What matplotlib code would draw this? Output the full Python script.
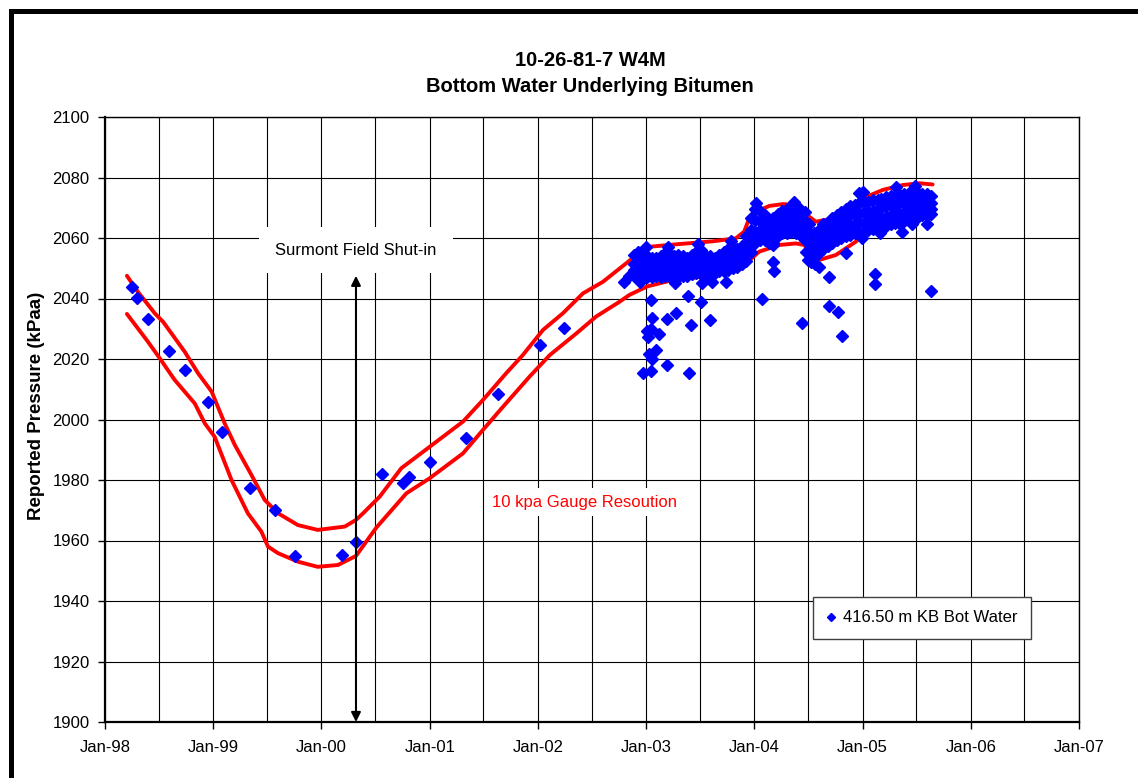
import numpy as np
import matplotlib
matplotlib.use("Agg")
import matplotlib.pyplot as plt
import matplotlib.dates as mdates
from matplotlib.patches import Rectangle

plt.rcParams["font.family"] = ["Liberation Sans", "DejaVu Sans"]

# sparse readings before the logger went in (1998 - 2002)
early_dates = ["1998-04-01", "1998-04-18", "1998-05-26", "1998-08-04", "1998-09-28",
               "1998-12-14", "1999-01-31", "1999-05-06", "1999-07-28", "1999-10-04",
               "2000-03-12", "2000-04-27", "2000-07-23", "2000-10-03", "2000-10-23",
               "2001-01-01", "2001-05-02", "2001-08-20", "2002-01-07", "2002-03-31",
               "2002-10-20", "2002-11-03"]
early_kpa = [2043.9, 2040.3, 2033.1, 2022.7, 2016.5,
             2005.9, 1995.9, 1977.3, 1970.2, 1954.9,
             1955.3, 1959.6, 1981.9, 1978.9, 1980.9,
             1985.9, 1993.8, 2008.3, 2024.6, 2030.3,
             2045.5, 2047.4]

dense_dates = ["2002-11-20", "2002-12-05", "2002-12-20", "2003-01-05", "2003-01-20", "2003-02-05", "2003-02-20", "2003-03-05", "2003-03-20", "2003-04-05",
               "2003-04-20", "2003-05-05", "2003-05-20", "2003-06-05", "2003-06-20", "2003-07-05", "2003-07-20", "2003-08-05", "2003-08-20", "2003-09-05",
               "2003-09-20", "2003-10-05", "2003-10-20", "2003-11-05", "2003-11-20", "2003-12-05", "2003-12-20", "2004-01-05", "2004-01-20", "2004-02-05",
               "2004-02-20", "2004-03-05", "2004-03-20", "2004-04-05", "2004-04-20", "2004-05-05", "2004-05-20", "2004-06-05", "2004-06-20", "2004-07-05",
               "2004-07-20", "2004-08-05", "2004-08-20", "2004-09-05", "2004-09-20", "2004-10-05", "2004-10-20", "2004-11-05", "2004-11-20", "2004-12-05",
               "2004-12-20", "2005-01-05", "2005-01-20", "2005-02-05", "2005-02-20", "2005-03-05", "2005-03-20", "2005-04-05", "2005-04-20", "2005-05-05",
               "2005-05-20", "2005-06-05", "2005-06-20", "2005-07-05", "2005-07-20", "2005-08-05", "2005-08-20"]
dense_row1 = [2054.5, 2055.5, 2054.5, 2054, 2053.5, 2053.5, 2054, 2055, 2055, 2054,
              2054.5, 2054, 2053.5, 2054.5, 2055.5, 2056, 2054.5, 2054, 2053.5, 2054.5,
              2055.5, 2056.5, 2057, 2056.5, 2057.5, 2060.5, 2066.5, 2069.5, 2069, 2067.5,
              2066, 2066.5, 2068, 2069, 2069.5, 2069.5, 2070, 2069.5, 2068.5, 2064.5,
              2061.5, 2062.5, 2064.5, 2065, 2066.5, 2067.5, 2068.5, 2069.5, 2070.5, 2071,
              2071.5, 2072, 2072, 2072.5, 2072.5, 2073, 2073.5, 2074, 2074, 2074.5,
              2074.5, 2075, 2075, 2075, 2074.5, 2074.5, 2074]
dense_row2 = [2051.5, 2052, 2052, 2051.5, 2051, 2051.5, 2051.5, 2052, 2052.5, 2051.5,
              2052, 2051.5, 2051.5, 2052, 2053, 2053, 2052, 2051.5, 2051.5, 2052.5,
              2053, 2054, 2054.5, 2054.5, 2055.5, 2058, 2062.5, 2066, 2065.5, 2064.5,
              2063.5, 2063.5, 2065.5, 2066.5, 2067, 2067, 2067, 2066.5, 2065.5, 2061.5,
              2058.5, 2060, 2062, 2062.5, 2064, 2065, 2065.5, 2066.5, 2067.5, 2068,
              2068, 2068.5, 2068.5, 2069, 2069.5, 2070, 2070.5, 2071, 2071, 2071.5,
              2071.5, 2072, 2072, 2072.5, 2072, 2072, 2071.5]
dense_row3 = [2049.5, 2049.5, 2050, 2049, 2049, 2049.5, 2049, 2049.5, 2050, 2049.5,
              2049.5, 2049.5, 2049.5, 2050, 2050.5, 2050.5, 2049.5, 2049, 2050, 2050.5,
              2051, 2051.5, 2052, 2052.5, 2053.5, 2055, 2059, 2062, 2062.5, 2062,
              2061, 2061, 2063, 2064, 2064, 2064.5, 2064.5, 2063.5, 2062.5, 2058.5,
              2056, 2057.5, 2059, 2060, 2061, 2062, 2063, 2063.5, 2064, 2064.5,
              2065, 2065, 2065.5, 2066, 2066.5, 2066.5, 2067, 2067.5, 2068, 2068,
              2068.5, 2069, 2069, 2069.5, 2069.5, 2069.5, 2069.5]
dense_row4 = [2047.5, 2047.5, 2048, 2047, 2047, 2047.5, 2047, 2047.5, 2047.5, 2047.5,
              2047, 2047.5, 2047.5, 2048, 2048.5, 2048, 2047.5, 2047, 2048.5, 2049,
              2049, 2049.5, 2050, 2050.5, 2051.5, 2052.5, 2055.5, 2058.5, 2059.5, 2059.5,
              2058.5, 2058.5, 2060.5, 2061.5, 2061.5, 2062, 2061.5, 2061, 2059.5, 2055.5,
              2053.5, 2055, 2056.5, 2057.5, 2058.5, 2059.5, 2060, 2060.5, 2061, 2061.5,
              2061.5, 2062, 2062.5, 2063, 2063.5, 2063.5, 2064, 2064.5, 2065, 2065,
              2065.5, 2066, 2066.5, 2067, 2067.5, 2067.5, 2068]

# ragged readings poking out of the band edges
edge_dates = ["2003-01-01", "2003-03-15", "2003-06-25", "2003-10-15", "2003-04-10",
              "2003-08-10", "2004-01-08", "2004-05-15", "2004-07-10", "2004-07-25",
              "2005-04-25", "2005-06-25", "2004-12-28", "2005-03-01"]
edge_kpa = [2057.0, 2057.0, 2058.0, 2059.0, 2045.0,
            2045.5, 2071.5, 2071.8, 2052.0, 2051.5,
            2076.8, 2077.3, 2060.0, 2061.5]

# stray readings away from the band
stray_dates = ["2002-12-10", "2003-01-18", "2003-05-23", "2003-07-06", "2004-01-26",
               "2003-04-13", "2003-03-11", "2003-01-21", "2003-08-05", "2003-06-03",
               "2004-06-10", "2003-01-05", "2003-01-19", "2003-02-12", "2003-01-09",
               "2003-02-02", "2003-01-12", "2003-01-22", "2003-03-11", "2002-12-20",
               "2003-01-19", "2003-05-27", "2003-07-08", "2003-09-27", "2004-03-06",
               "2004-03-08", "2004-09-10", "2004-10-10", "2004-10-22", "2004-09-08",
               "2004-08-07", "2004-06-29", "2004-11-05", "2005-02-13", "2005-02-13",
               "2005-08-21", "2005-05-12", "2005-06-17", "2005-08-07", "2004-12-20",
               "2005-01-01", "2004-06-24", "2004-03-04"]
stray_kpa = [2045.5, 2039.5, 2040.8, 2038.9, 2040.0,
             2035.3, 2033.2, 2033.4, 2032.9, 2031.3,
             2031.8, 2029.4, 2029.9, 2028.3, 2027.4,
             2023.0, 2021.7, 2020.0, 2018.0, 2015.4,
             2016.1, 2015.4, 2045.2, 2045.5, 2052.0,
             2049.1, 2037.6, 2035.6, 2027.7, 2047.2,
             2050.5, 2052.7, 2055.1, 2048.0, 2044.7,
             2042.5, 2062.1, 2064.5, 2064.6, 2075.0,
             2075.3, 2055.5, 2057.7]

# 10 kPa gauge resolution envelope
upper_dates = ["1998-03-16", "1998-04-22", "1998-06-18", "1998-07-16", "1998-09-27",
               "1998-11-11", "1998-12-27", "1999-02-09", "1999-03-15", "1999-05-10",
               "1999-06-24", "1999-08-08", "1999-10-14", "1999-12-20", "2000-03-20",
               "2000-04-27", "2000-05-21", "2000-07-16", "2000-09-27", "2001-01-01",
               "2001-04-23", "2001-06-29", "2001-09-16", "2001-11-11", "2002-01-18",
               "2002-03-26", "2002-06-02", "2002-08-08", "2002-11-06", "2002-12-20",
               "2003-01-12", "2003-04-23", "2003-08-13", "2003-10-31", "2003-11-28",
               "2003-12-15", "2004-01-07", "2004-02-21", "2004-04-06", "2004-06-01",
               "2004-07-05", "2004-07-27", "2004-09-10", "2004-11-05", "2005-01-01",
               "2005-03-10", "2005-05-16", "2005-07-11", "2005-08-25"]
upper_kpa = [2047.5, 2042.2, 2035.1, 2032.3, 2022.4,
             2015.3, 2009.2, 1998.7, 1991.6, 1981.7,
             1973.4, 1969.0, 1965.1, 1963.5, 1964.6,
             1966.8, 1969.0, 1974.5, 1983.9, 1991.0,
             1999.3, 2006.4, 2015.3, 2021.3, 2029.6,
             2035.1, 2041.7, 2045.5, 2052.5, 2056.2,
             2057.1, 2058.0, 2058.9, 2059.9, 2062.1,
             2066.5, 2068.7, 2070.6, 2071.2, 2070.9,
             2067.0, 2065.4, 2066.2, 2069.5, 2073.1,
             2075.9, 2077.5, 2078.1, 2077.7]
lower_dates = ["1998-03-16", "1998-05-26", "1998-07-05", "1998-08-24", "1998-10-31",
               "1998-12-04", "1999-01-06", "1999-03-04", "1999-04-28", "1999-06-13",
               "1999-07-05", "1999-08-08", "1999-10-14", "1999-12-20", "2000-02-26",
               "2000-04-27", "2000-07-05", "2000-10-14", "2001-01-01", "2001-04-23",
               "2001-06-29", "2001-09-05", "2001-12-04", "2002-02-10", "2002-05-10",
               "2002-07-16", "2002-10-03", "2002-11-06", "2003-01-05", "2003-04-01",
               "2003-07-10", "2003-10-08", "2003-12-03", "2004-01-18", "2004-03-26",
               "2004-05-21", "2004-06-18", "2004-07-16", "2004-08-13", "2004-10-03",
               "2004-12-09", "2005-01-01", "2005-03-10", "2005-05-16", "2005-07-22",
               "2005-08-25"]
lower_kpa = [2034.9, 2025.7, 2020.2, 2013.1, 2005.3,
             1998.7, 1994.3, 1980.0, 1969.0, 1962.9,
             1958.0, 1955.8, 1953.0, 1951.3, 1951.9,
             1954.9, 1964.3, 1975.6, 1980.6, 1988.8,
             1996.5, 2004.2, 2014.2, 2021.3, 2028.4,
             2034.0, 2038.9, 2041.2, 2044.0, 2046.1,
             2047.2, 2048.9, 2051.6, 2055.5, 2057.7,
             2058.2, 2057.7, 2053.8, 2052.9, 2054.4,
             2058.8, 2061.0, 2063.2, 2064.8, 2067.0,
             2066.8]

shut_in_date = "2000-04-27"
series_name = "416.50 m KB Bot Water"


def d(lst):
    return np.array(lst, dtype="datetime64[D]")


all_dates = np.concatenate([d(early_dates)] + [d(dense_dates)] * 4 + [d(edge_dates), d(stray_dates)])
all_kpa = np.concatenate([early_kpa, dense_row1, dense_row2, dense_row3, dense_row4,
                          edge_kpa, stray_kpa])

W, H = 1138, 778
fig = plt.figure(figsize=(W / 100, H / 100), dpi=100)
ax = fig.add_axes([105 / W, 56 / H, 974 / W, 605 / H])

# envelope first, readings on top
ax.plot(d(upper_dates), upper_kpa, color="#FF0000", lw=2.8, zorder=3,
        solid_joinstyle="round", solid_capstyle="round")
ax.plot(d(lower_dates), lower_kpa, color="#FF0000", lw=2.8, zorder=3,
        solid_joinstyle="round", solid_capstyle="round")
pts, = ax.plot(all_dates, all_kpa, linestyle="none", marker="D", ms=6.6,
               color="#0000FF", mec="#0000FF", zorder=4)

ax.set_xlim(np.datetime64("1998-01-01"), np.datetime64("2007-01-01"))
ax.set_ylim(1900, 2100)
ax.set_yticks(np.arange(1900, 2101, 20))
ax.xaxis.set_major_locator(mdates.YearLocator())
ax.xaxis.set_minor_locator(mdates.MonthLocator(bymonth=7))
ax.xaxis.set_major_formatter(mdates.DateFormatter("%b-%y"))

ax.grid(True, which="major", color="black", lw=0.8, zorder=1)
ax.grid(True, which="minor", axis="x", color="black", lw=0.8, zorder=1)
ax.set_axisbelow(True)
ax.tick_params(axis="x", which="major", direction="out", length=5, width=1,
               labelsize=12, pad=8)
ax.tick_params(axis="x", which="minor", length=0)
ax.tick_params(axis="y", direction="out", length=5, width=1, labelsize=12, pad=6)
for side in ["left", "bottom"]:
    ax.spines[side].set_linewidth(1.6)
for side in ["top", "right"]:
    ax.spines[side].set_linewidth(1.0)

# shut-in arrow + notes
ax.annotate("", xy=(np.datetime64(shut_in_date), 2047.5), xytext=(np.datetime64(shut_in_date), 1900),
            arrowprops=dict(arrowstyle="<|-|>", color="black", lw=1.5, mutation_scale=14,
                            shrinkA=0, shrinkB=0), zorder=6)
ax.text(np.datetime64(shut_in_date), 2056, "Surmont Field Shut-in", ha="center", va="center",
        fontsize=12, zorder=5,
        bbox=dict(boxstyle="square,pad=0.95", facecolor="white", edgecolor="none"))
ax.text(np.datetime64("2002-06-07"), 1972.7, "10 kpa Gauge Resoution", ha="center", va="center",
        fontsize=12, color="#FF0000", zorder=5,
        bbox=dict(boxstyle="square,pad=0.4", facecolor="white", edgecolor="none"))

leg = ax.legend([pts], [series_name], loc="center", bbox_to_anchor=(922 / W, 1 - 618 / H),
                bbox_transform=fig.transFigure, fancybox=False, framealpha=1,
                edgecolor="#404040", fontsize=12, handlelength=0.6, handletextpad=0.4,
                borderpad=0.8, markerscale=0.65)
leg.get_frame().set_linewidth(1.0)
leg.set_zorder(7)

fig.text(590 / W, 1 - 61 / H, "10-26-81-7 W4M", ha="center", va="center",
         fontsize=14.5, fontweight="bold")
fig.text(590 / W, 1 - 87 / H, "Bottom Water Underlying Bitumen", ha="center", va="center",
         fontsize=14.5, fontweight="bold")
fig.text(37 / W, 1 - 406 / H, "Reported Pressure (kPaa)", ha="center", va="center",
         rotation=90, fontsize=13.5, fontweight="bold")

# outer chart border (runs off the right and bottom edges like the source)
fig.patches.append(Rectangle((10.5 / W, -0.1), 1.2, 1.1 - 10.5 / H, transform=fig.transFigure,
                             fill=False, lw=3.6, edgecolor="black"))

fig.savefig("out.png", dpi=100)
plt.close(fig)
